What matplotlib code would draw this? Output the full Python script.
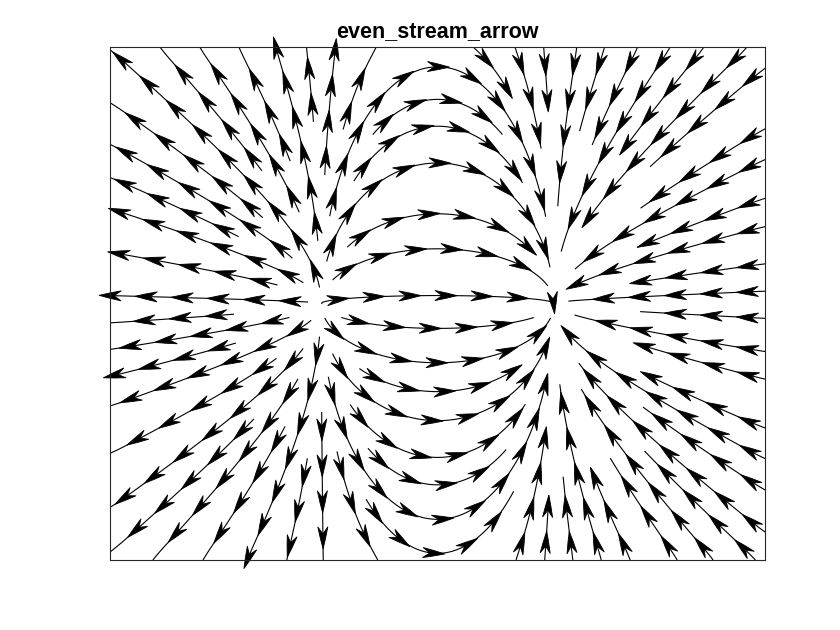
import numpy as np
import matplotlib
matplotlib.use('Agg')
import matplotlib.pyplot as plt
from matplotlib.collections import LineCollection, PolyCollection

# ---- data: gradient field of z = x*exp(-x^2-y^2) on a regular grid ----
x_grid = np.linspace(-2.0, 2.0, 41)
y_grid = np.linspace(-2.0, 2.0, 41)
X, Y = np.meshgrid(x_grid, y_grid)
Z = X * np.exp(-X**2 - Y**2)
V, U = np.gradient(Z, y_grid, x_grid)
title_text = "even_stream_arrow"

# ---- figure / axes geometry ----
FIG_W, FIG_H, DPI = 8.4, 6.3, 100
AX = [0.131, 0.111, 0.78, 0.8143]
PW = AX[2] * FIG_W * DPI
PH = AX[3] * FIG_H * DPI
x0, x1 = x_grid[0], x_grid[-1]
y0, y1 = y_grid[0], y_grid[-1]
sx = PW / (x1 - x0)
sy = PH / (y1 - y0)

dxg = x_grid[1] - x_grid[0]
dyg = y_grid[1] - y_grid[0]


def field(px, py):
    xd = x0 + px / sx
    yd = y0 + py / sy
    fi = (xd - x0) / dxg
    fj = (yd - y0) / dyg
    i = int(np.clip(np.floor(fi), 0, len(x_grid) - 2))
    j = int(np.clip(np.floor(fj), 0, len(y_grid) - 2))
    tx = fi - i
    ty = fj - j
    u = (U[j, i] * (1 - tx) * (1 - ty) + U[j, i + 1] * tx * (1 - ty)
         + U[j + 1, i] * (1 - tx) * ty + U[j + 1, i + 1] * tx * ty)
    v = (V[j, i] * (1 - tx) * (1 - ty) + V[j, i + 1] * tx * (1 - ty)
         + V[j + 1, i] * (1 - tx) * ty + V[j + 1, i + 1] * tx * ty)
    return u * sx, v * sy


umax = np.max(np.hypot(U * sx, V * sy))

DSEP = 27.0
DTEST = 14.0
H = 1.2
NX, NY = int(PW) + 1, int(PH) + 1
mask_test = np.zeros((NY, NX), dtype=bool)
mask_sep = np.zeros((NY, NX), dtype=bool)


def disk(r):
    rr = int(np.ceil(r))
    yy, xx = np.mgrid[-rr:rr + 1, -rr:rr + 1]
    return rr, (xx**2 + yy**2) <= r * r


R_T, D_T = disk(DTEST)
R_S, D_S = disk(DSEP * 0.93)


def stamp(mask, rr, dk, px, py):
    cx, cy = int(round(px)), int(round(py))
    xa, xb = cx - rr, cx + rr + 1
    ya, yb = cy - rr, cy + rr + 1
    sxa, sya = max(0, -xa), max(0, -ya)
    xa2, ya2 = max(xa, 0), max(ya, 0)
    xb2, yb2 = min(xb, NX), min(yb, NY)
    if xb2 <= xa2 or yb2 <= ya2:
        return
    mask[ya2:yb2, xa2:xb2] |= dk[sya:sya + (yb2 - ya2), sxa:sxa + (xb2 - xa2)]


def blocked(mask, px, py):
    cx, cy = int(round(px)), int(round(py))
    if cx < 0 or cy < 0 or cx >= NX or cy >= NY:
        return True
    return mask[cy, cx]


def inside(px, py):
    return 0 <= px <= PW and 0 <= py <= PH


def direction(px, py, sgn):
    u, v = field(px, py)
    m = np.hypot(u, v)
    if m < 1e-3 * umax:
        return None
    return sgn * u / m, sgn * v / m


def integrate(px, py, sgn):
    pts = []
    prev = None
    for _ in range(5000):
        d = direction(px, py, sgn)
        if d is None:
            break
        mx, my = px + 0.5 * H * d[0], py + 0.5 * H * d[1]
        d2 = direction(mx, my, sgn)
        if d2 is None:
            break
        if prev is not None and d2[0] * prev[0] + d2[1] * prev[1] < 0.3:
            break
        nx, ny = px + H * d2[0], py + H * d2[1]
        if not inside(nx, ny):
            t = 1.0
            for c, dc, lo, hi in ((px, d2[0], 0, PW), (py, d2[1], 0, PH)):
                if dc > 0 and c + H * dc > hi:
                    t = min(t, (hi - c) / (H * dc))
                if dc < 0 and c + H * dc < lo:
                    t = min(t, (lo - c) / (H * dc))
            pts.append((px + t * H * d2[0], py + t * H * d2[1]))
            break
        if blocked(mask_test, nx, ny):
            break
        pts.append((nx, ny))
        prev = d2
        px, py = nx, ny
    return pts


def make_line(px, py):
    fwd = integrate(px, py, 1.0)
    bwd = integrate(px, py, -1.0)
    line = bwd[::-1] + [(px, py)] + fwd
    return np.array(line)


lines = []


def add_line(line):
    lines.append(line)
    for (px, py) in line:
        stamp(mask_test, R_T, D_T, px, py)
        stamp(mask_sep, R_S, D_S, px, py)


def seed_ok(px, py):
    if not (1 <= px <= PW - 1 and 1 <= py <= PH - 1):
        return False
    if blocked(mask_sep, px, py):
        return False
    return direction(px, py, 1.0) is not None


queue = []
first = make_line(PW / 2, PH / 2 + 8)
add_line(first)
queue.append(first)


def process_queue():
    while queue:
        ln = queue.pop(0)
        n = len(ln)
        for k in range(0, n - 1, 3):
            p = ln[k]
            t = ln[k + 1] - p
            tn = np.hypot(*t)
            if tn == 0:
                continue
            t = t / tn
            nrm = np.array([-t[1], t[0]])
            for s in (1, -1):
                c = p + s * DSEP * nrm
                if seed_ok(c[0], c[1]):
                    new = make_line(c[0], c[1])
                    if len(new) > 8:
                        add_line(new)
                        queue.append(new)


process_queue()
for gy in np.arange(DSEP / 2, PH, DSEP / 2):
    for gx in np.arange(DSEP / 2, PW, DSEP / 2):
        if seed_ok(gx, gy):
            new = make_line(gx, gy)
            if len(new) > 8:
                add_line(new)
                queue.append(new)
                process_queue()

# ---- arrows ----
ARROW_SP = 36.0
AL, AW, AN = 22.0, 10.0, 15.0
polys = []
for ln in lines:
    seg = np.diff(ln, axis=0)
    sl = np.hypot(seg[:, 0], seg[:, 1])
    cum = np.concatenate([[0], np.cumsum(sl)])
    total = cum[-1]
    if total < 15:
        continue
    s = ARROW_SP * 0.5 if total > ARROW_SP else total * 0.5
    while s < total:
        k = np.searchsorted(cum, s) - 1
        k = max(0, min(k, len(seg) - 1))
        f = (s - cum[k]) / sl[k] if sl[k] > 0 else 0
        p = ln[k] + f * seg[k]
        d = seg[k] / sl[k] if sl[k] > 0 else np.array([1.0, 0.0])
        nrm = np.array([-d[1], d[0]])
        tip = p + d * AL * 0.5
        verts = np.array([tip,
                          tip - d * AL * 0.5 + nrm * AW * 0.27,
                          tip - d * AL + nrm * AW * 0.5,
                          tip - d * AN,
                          tip - d * AL - nrm * AW * 0.5,
                          tip - d * AL * 0.5 - nrm * AW * 0.27])
        polys.append(np.column_stack([x0 + verts[:, 0] / sx, y0 + verts[:, 1] / sy]))
        s += ARROW_SP

# ---- draw ----
fig = plt.figure(figsize=(FIG_W, FIG_H), dpi=DPI)
ax = fig.add_axes(AX)
segs = [np.column_stack([x0 + ln[:, 0] / sx, y0 + ln[:, 1] / sy]) for ln in lines]
ax.add_collection(LineCollection(segs, colors='black', linewidths=0.8))
pc = PolyCollection(polys, facecolors='black', edgecolors='black', linewidths=0.6)
pc.set_clip_on(False)
ax.add_collection(pc)
ax.set_xlim(x0, x1)
ax.set_ylim(y0, y1)
ax.set_xticks([])
ax.set_yticks([])
for sp in ax.spines.values():
    sp.set_linewidth(0.8)
    sp.set_color('#262626')
ax.set_title(title_text, fontsize=15.5, fontweight='bold', family=['Liberation Sans', 'DejaVu Sans'], pad=7)
fig.savefig('out.png', dpi=DPI)
